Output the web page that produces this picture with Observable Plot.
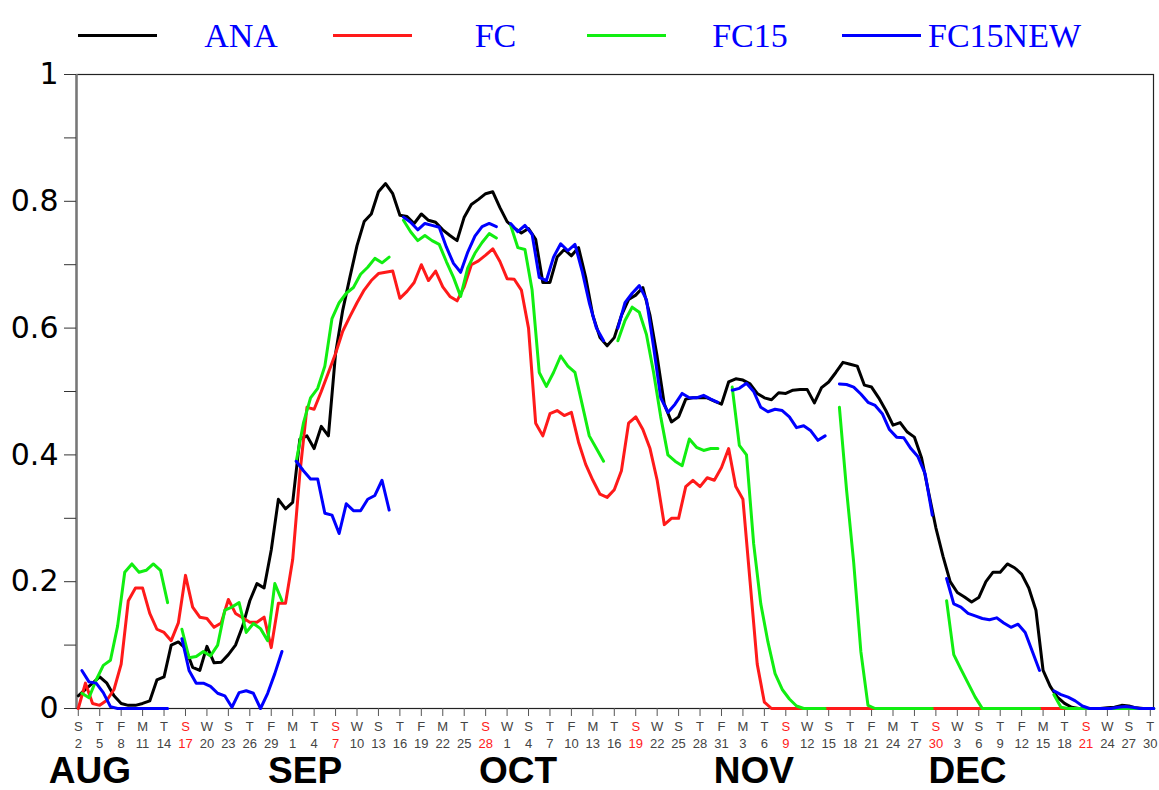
<!DOCTYPE html>
<html>
<head>
<meta charset="utf-8">
<script src="https://cdn.jsdelivr.net/npm/d3@7"></script>
<script src="https://cdn.jsdelivr.net/npm/@observablehq/plot@0.6"></script>
<style>
  body { margin: 0; background: #fff; }
  #legend { position: relative; width: 1159px; height: 60px; }
  .sw { position: absolute; top: 34px; height: 3px; width: 79px; }
  .lb { position: absolute; top: 17px; line-height: 38px; font-family: "Liberation Serif", "Times New Roman", serif;
        font-size: 34px; color: #0000ff; transform: translateX(-50%); white-space: nowrap; }
  #chart svg { display: block; }
  #months { position: relative; width: 1159px; height: 34px; margin-top: -2px; }
  .mo { position: absolute; top: 0; line-height: 34px; font-family: "Liberation Sans", Arial, sans-serif;
        font-size: 37px; font-weight: bold; color: #000; transform: translateX(-50%); white-space: nowrap; }
</style>
</head>
<body>
<div id="legend"></div>
<div id="chart"></div>
<div id="months"></div>
<script>
// ---------------- data ----------------
const seriesNames = ["ANA", "FC", "FC15", "FC15NEW"];
const seriesColors = ["#000000", "#ff1a1a", "#11ee11", "#0000ff"];

// day index 0 = Aug 2 (2008) ... 150 = Dec 30
const ana = [
  0.02,0.03,0.04,0.05,0.04,0.02,0.008,0.005,0.005,0.008,
  0.012,0.045,0.05,0.1,0.105,0.095,0.065,0.06,0.098,0.072,
  0.073,0.085,0.1,0.13,0.17,0.197,0.19,0.25,0.33,0.315,
  0.325,0.425,0.43,0.41,0.445,0.43,0.56,0.628,0.68,0.73,
  0.768,0.78,0.815,0.828,0.812,0.778,0.776,0.765,0.78,0.77,
  0.767,0.755,0.746,0.738,0.775,0.795,0.803,0.812,0.815,0.79,
  0.768,0.758,0.75,0.757,0.74,0.672,0.672,0.712,0.724,0.714,
  0.727,0.68,0.62,0.585,0.572,0.585,0.62,0.645,0.652,0.664,
  0.62,0.555,0.48,0.452,0.46,0.488,0.49,0.49,0.49,0.485,
  0.48,0.515,0.52,0.518,0.512,0.497,0.49,0.487,0.498,0.497,
  0.502,0.503,0.503,0.482,0.506,0.515,0.53,0.546,0.543,0.54,
  0.51,0.507,0.49,0.47,0.447,0.451,0.436,0.428,0.395,0.34,
  0.285,0.24,0.2,0.183,0.176,0.168,0.175,0.2,0.215,0.215,
  0.228,0.222,0.212,0.19,0.155,0.06,0.035,0.018,0.008,0.002,
  0,0,0,0,0.001,0.002,0.005,0.004,0.001,0,0
];

const fc = [
  0,0.04,0.008,0.005,0.013,0.03,0.07,0.17,0.19,0.19,
  0.15,0.125,0.12,0.107,0.135,0.21,0.16,0.144,0.142,0.128,
  0.135,0.172,0.15,0.143,0.136,0.136,0.144,0.096,0.166,0.166,
  0.235,0.37,0.475,0.472,0.5,0.53,0.56,0.595,0.618,0.64,
  0.66,0.675,0.686,0.688,0.69,0.647,0.658,0.672,0.7,0.675,
  0.69,0.665,0.65,0.643,0.665,0.7,0.706,0.715,0.725,0.705,
  0.678,0.677,0.66,0.6,0.45,0.43,0.465,0.47,0.462,0.467,
  0.42,0.385,0.36,0.338,0.333,0.345,0.375,0.45,0.46,0.44,
  0.41,0.36,0.29,0.3,0.3,0.35,0.36,0.35,0.364,0.36,
  0.38,0.41,0.35,0.33,0.2,0.07,0.01,0,0,0,
  0,0,0,0,0,0,0,0,0,0,
  0,0,0,0,0,0,0,0,0,0,
  0,0,0,0,0,0,0,0,0,0,
  0,0,0,0,0,0,0,0,0,0,
  0,0,0,0,0,0,0,0,0,0,0
];

// 15-day forecasts: start day of each run
const fcStarts = [0.5, 14.5, 30.5, 45.5, 60.5, 75.5, 91.5, 106.5, 121.5, 136.5];

const fc15 = [
  [0.024,0.017,0.045,0.068,0.076,0.13,0.215,0.228,0.215,0.218,0.228,0.218,0.167],
  [0.125,0.08,0.082,0.09,0.083,0.1,0.155,0.16,0.167,0.12,0.134,0.126,0.107,0.197,0.17],
  [0.39,0.45,0.49,0.505,0.54,0.615,0.64,0.655,0.664,0.685,0.696,0.71,0.703,0.712],
  [0.77,0.752,0.738,0.746,0.738,0.732,0.705,0.68,0.65,0.695,0.718,0.735,0.749,0.742],
  [0.762,0.727,0.724,0.66,0.53,0.508,0.53,0.556,0.54,0.53,0.48,0.43,0.41,0.39],
  [0.58,0.612,0.633,0.625,0.59,0.53,0.46,0.4,0.39,0.383,0.425,0.412,0.407,0.41,0.41],
  [0.507,0.415,0.4,0.26,0.165,0.105,0.055,0.03,0.015,0.004,0,0,0,0],
  [0.475,0.345,0.23,0.09,0.005,0,0,0,0,0,0,0,0,0],
  [0.17,0.085,0.062,0.04,0.018,0,0,0,0,0,0,0,0,0],
  [0.022,0.002,0,0,0,0,0,0,0,0,0,0,0,0,0]
];

const fc15new = [
  [0.06,0.042,0.04,0.025,0.003,0,0,0,0,0,0,0,0],
  [0.11,0.06,0.04,0.04,0.035,0.024,0.02,0.002,0.025,0.028,0.024,0,0.024,0.055,0.09],
  [0.39,0.375,0.362,0.362,0.308,0.305,0.276,0.323,0.312,0.312,0.33,0.336,0.36,0.313],
  [0.775,0.767,0.755,0.765,0.762,0.759,0.728,0.702,0.688,0.72,0.745,0.76,0.765,0.76],
  [0.765,0.752,0.762,0.748,0.68,0.675,0.712,0.733,0.722,0.732,0.69,0.64,0.6,0.58],
  [0.6,0.64,0.655,0.667,0.645,0.57,0.49,0.467,0.48,0.497,0.49,0.49,0.494,0.488,0.483],
  [0.502,0.505,0.513,0.5,0.475,0.468,0.472,0.47,0.46,0.443,0.446,0.438,0.423,0.43],
  [0.512,0.511,0.507,0.496,0.483,0.478,0.465,0.44,0.428,0.427,0.41,0.397,0.37,0.305],
  [0.205,0.165,0.16,0.15,0.146,0.142,0.14,0.143,0.135,0.128,0.133,0.12,0.09,0.06],
  [0.028,0.022,0.018,0.012,0.004,0,0,0,0,0.002,0.003,0.002,0,0,0]
];

// x-axis tick labels (every 3rd day from Aug 2)
const tickWeekdays = ["S","T","F","M","T","S","W","S","T","F",
  "M","T","S","W","S","T","F","M","T","S",
  "W","S","T","F","M","T","S","W","S","T","F",
  "M","T","S","W","S","T","F","M","T","S",
  "W","S","T","F","M","T","S","W","S","T"];
const tickDayNums = [2,5,8,11,14,17,20,23,26,29,
  1,4,7,10,13,16,19,22,25,28,
  1,4,7,10,13,16,19,22,25,28,31,
  3,6,9,12,15,18,21,24,27,30,
  3,6,9,12,15,18,21,24,27,30];
const sundayTicks = [5, 12, 19, 26, 33, 40, 47]; // indices of Sunday ticks

const monthNames = ["AUG", "SEP", "OCT", "NOV", "DEC"];
const monthDays = [1.7, 31.8, 61.6, 94.6, 124.5];

const yMajor = [0, 0.2, 0.4, 0.6, 0.8, 1];
const yMajorLabels = ["0", "0.2", "0.4", "0.6", "0.8", "1"];
const yMinor = [0.1, 0.3, 0.5, 0.7, 0.9];

// ---------------- legend (HTML, above the SVG) ----------------
const legend = document.getElementById("legend");
seriesNames.forEach((name, i) => {
  const left = 78 + i * 254.5;
  const sw = document.createElement("div");
  sw.className = "sw";
  sw.style.left = left + "px";
  sw.style.background = seriesColors[i];
  legend.appendChild(sw);
  const lb = document.createElement("div");
  lb.className = "lb";
  lb.style.left = (left + 163) + "px";
  lb.textContent = name;
  legend.appendChild(lb);
});

// ---------------- tables ----------------
const anaData = ana.map((v, i) => ({d: i, v}));
const fcData = fc.map((v, i) => ({d: i, v}));
const segTable = (segs) => segs.flatMap((vals, k) => vals.map((v, j) => ({d: fcStarts[k] + j, v, k})));
const fc15Data = segTable(fc15);
const fc15newData = segTable(fc15new);

const ticks = tickWeekdays.map((w, i) => ({d: i * 3, w, n: String(tickDayNums[i]), sun: sundayTicks.includes(i)}));

const lw = 3;
const tickFont = "'Liberation Sans', sans-serif";

const chart = Plot.plot({
  width: 1159,
  height: 696,
  marginTop: 14,
  marginBottom: 48,
  marginLeft: 76,
  marginRight: 6,
  x: {domain: [-0.25, 150.45], axis: null},
  y: {domain: [0, 1], axis: null},
  style: {fontFamily: "'DejaVu Sans', sans-serif", background: "#fff", overflow: "visible"},
  marks: [
    Plot.frame({stroke: "#222", strokeWidth: 1.2}),
    Plot.ruleX([-0.25], {stroke: "#777", strokeWidth: 2.5}),
    Plot.axisY({ticks: yMinor, tickSize: 12, text: null, label: null, stroke: "#333", anchor: "left"}),
    Plot.axisY({ticks: yMajor, tickSize: 12, tickPadding: 6, label: null, stroke: "#333", fill: "#000", fontSize: 30,
      tickFormat: d => yMajorLabels[yMajor.indexOf(d)], anchor: "left"}),
    Plot.axisX({ticks: ticks.map(t => t.d), tickSize: 8, text: null, label: null, stroke: "#555", anchor: "bottom"}),
    Plot.text(ticks.filter(t => !t.sun), {x: "d", text: "w", frameAnchor: "bottom", dy: 22, fill: "#444", fontSize: 13, fontFamily: tickFont}),
    Plot.text(ticks.filter(t => t.sun), {x: "d", text: "w", frameAnchor: "bottom", dy: 22, fill: "#ff2020", fontSize: 13, fontFamily: tickFont}),
    Plot.text(ticks.filter(t => !t.sun), {x: "d", text: "n", frameAnchor: "bottom", dy: 39, fill: "#444", fontSize: 13, fontFamily: tickFont}),
    Plot.text(ticks.filter(t => t.sun), {x: "d", text: "n", frameAnchor: "bottom", dy: 39, fill: "#ff2020", fontSize: 13, fontFamily: tickFont}),
    Plot.line(anaData, {x: "d", y: "v", stroke: seriesColors[0], strokeWidth: lw}),
    Plot.line(fcData, {x: "d", y: "v", stroke: seriesColors[1], strokeWidth: lw}),
    Plot.line(fc15Data, {x: "d", y: "v", z: "k", stroke: seriesColors[2], strokeWidth: lw}),
    Plot.line(fc15newData, {x: "d", y: "v", z: "k", stroke: seriesColors[3], strokeWidth: lw})
  ]
});
document.getElementById("chart").appendChild(chart);

// month names row below the SVG, placed with the chart's own x scale
const xScale = chart.scale("x");
const monthsRow = document.getElementById("months");
monthNames.forEach((m, i) => {
  const el = document.createElement("div");
  el.className = "mo";
  el.style.left = xScale.apply(monthDays[i]) + "px";
  el.textContent = m;
  monthsRow.appendChild(el);
});
</script>
</body>
</html>
